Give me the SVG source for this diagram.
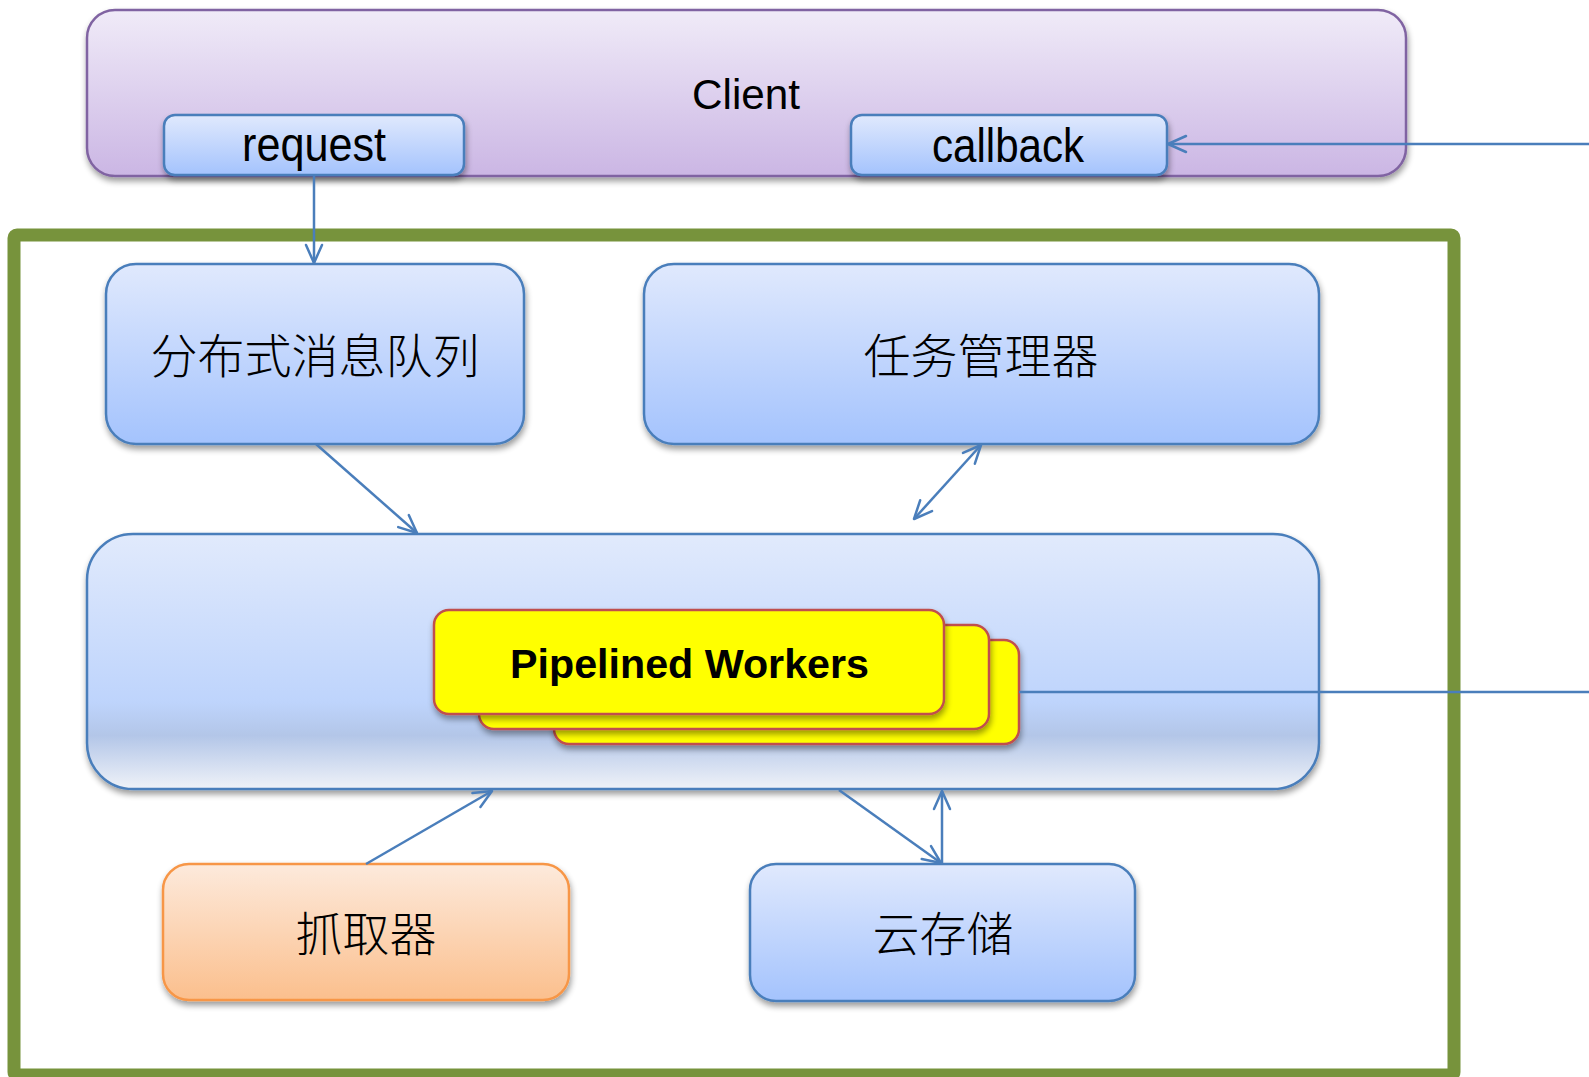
<svg xmlns="http://www.w3.org/2000/svg" width="1589" height="1077" viewBox="0 0 1589 1077">
  <defs>
    <style>
      .latin { font-family: "Liberation Sans", Arial, sans-serif; fill: #000; }
      .cjk { font-family: "Noto Sans CJK SC", "Noto Sans CJK JP", sans-serif; font-size: 47px; font-weight: 300; fill: #000; text-anchor: middle; }
      .blue { fill: url(#gBlue); stroke: #4A7EBB; stroke-width: 2.5; }
      .card { fill: #FFFF00; stroke: #C0504D; stroke-width: 2.5; }
      .conn { fill: none; stroke: #4A7EBB; stroke-width: 2.5; }
      .arr { marker-end: url(#open); }
      .both { marker-start: url(#open); marker-end: url(#open); }
    </style>
    <linearGradient id="gClient" x1="0" y1="0" x2="0" y2="1">
      <stop offset="0" stop-color="#F0EBF8"/>
      <stop offset="1" stop-color="#CBB6E4"/>
    </linearGradient>
    <linearGradient id="gBlue" x1="0" y1="0" x2="0" y2="1">
      <stop offset="0" stop-color="#E0E9FD"/>
      <stop offset="1" stop-color="#A4C3FD"/>
    </linearGradient>
    <linearGradient id="gBig" x1="0" y1="0" x2="0" y2="1">
      <stop offset="0" stop-color="#E1EAFC"/>
      <stop offset="0.66" stop-color="#BED4FC"/>
      <stop offset="0.79" stop-color="#B3C6E8"/>
      <stop offset="1" stop-color="#EFF2F8"/>
    </linearGradient>
    <linearGradient id="gOrange" x1="0" y1="0" x2="0" y2="1">
      <stop offset="0" stop-color="#FDEADC"/>
      <stop offset="1" stop-color="#FBBF8D"/>
    </linearGradient>
    <filter id="shadow" x="-10%" y="-10%" width="120%" height="130%">
      <feGaussianBlur in="SourceAlpha" stdDeviation="3"/>
      <feOffset dx="1" dy="4" result="off"/>
      <feComponentTransfer><feFuncA type="linear" slope="0.4"/></feComponentTransfer>
      <feMerge><feMergeNode/><feMergeNode in="SourceGraphic"/></feMerge>
    </filter>
    <marker id="open" viewBox="-21 -11 24 22" markerWidth="24" markerHeight="22" refX="0" refY="0" markerUnits="userSpaceOnUse" orient="auto-start-reverse">
      <path d="M-18,-8 L0,0 L-18,8" fill="none" stroke="#4A7EBB" stroke-width="2.5" stroke-linecap="round" stroke-linejoin="round"/>
    </marker>
  </defs>

  <rect width="1589" height="1077" fill="#FFFFFF"/>

  <!-- outer system frame -->
  <g id="system-frame">
    <rect x="14" y="235" width="1440" height="840" rx="3" fill="none" stroke="#77933C" stroke-width="13"/>
  </g>

  <!-- client bar with its two ports -->
  <g id="client">
    <rect x="87" y="10" width="1319" height="166" rx="28" fill="url(#gClient)" stroke="#8064A2" stroke-width="2.5" filter="url(#shadow)"/>
    <text class="latin" x="746" y="109" font-size="42" text-anchor="middle" textLength="108" lengthAdjust="spacingAndGlyphs">Client</text>
  </g>
  <g id="request">
    <rect class="blue" x="164" y="115" width="300" height="60" rx="11" filter="url(#shadow)"/>
    <text class="latin" x="314" y="161" font-size="48" text-anchor="middle" textLength="144" lengthAdjust="spacingAndGlyphs">request</text>
  </g>
  <g id="callback">
    <rect class="blue" x="851" y="115" width="316" height="60" rx="11" filter="url(#shadow)"/>
    <text class="latin" x="1008" y="162" font-size="48" text-anchor="middle" textLength="152" lengthAdjust="spacingAndGlyphs">callback</text>
  </g>

  <!-- services -->
  <g id="message-queue">
    <rect class="blue" x="106" y="264" width="418" height="180" rx="30" filter="url(#shadow)"/>
    <text class="cjk" x="315" y="373">分布式消息队列</text>
  </g>
  <g id="task-manager">
    <rect class="blue" x="644" y="264" width="675" height="180" rx="30" filter="url(#shadow)"/>
    <text class="cjk" x="981" y="373">任务管理器</text>
  </g>

  <g id="worker-pool">
    <rect x="87" y="534" width="1232" height="255" rx="46" fill="url(#gBig)" stroke="#4A7EBB" stroke-width="2.5" filter="url(#shadow)"/>
  </g>
  <g id="pipelined-workers">
    <rect class="card" x="554" y="640" width="465" height="104" rx="15" filter="url(#shadow)"/>
    <rect class="card" x="479" y="625" width="510" height="104" rx="15" filter="url(#shadow)"/>
    <rect class="card" x="434" y="610" width="510" height="104" rx="15" filter="url(#shadow)"/>
    <text class="latin" x="689.5" y="678" font-size="40" font-weight="bold" text-anchor="middle" textLength="359" lengthAdjust="spacingAndGlyphs">Pipelined Workers</text>
  </g>

  <g id="fetcher">
    <rect x="163" y="864" width="406" height="136" rx="26" fill="url(#gOrange)" stroke="#F79646" stroke-width="2.5" filter="url(#shadow)"/>
    <text class="cjk" x="366" y="951">抓取器</text>
  </g>
  <g id="cloud-storage">
    <rect class="blue" x="750" y="864" width="385" height="137" rx="26" filter="url(#shadow)"/>
    <text class="cjk" x="943" y="951">云存储</text>
  </g>

  <!-- connectors -->
  <g id="connectors">
    <path class="conn arr" d="M314,176 L314,263"/>
    <path class="conn arr" d="M316,444 L417,533"/>
    <path class="conn both" d="M981,445 L914,519"/>
    <path class="conn arr" d="M366,864 L492,791"/>
    <path class="conn arr" d="M839,790 L941,863"/>
    <path class="conn arr" d="M942,864 L942,791"/>
    <path class="conn" d="M1019,692 L1589,692"/>
    <path class="conn arr" d="M1589,144 L1168,144"/>
  </g>
</svg>
